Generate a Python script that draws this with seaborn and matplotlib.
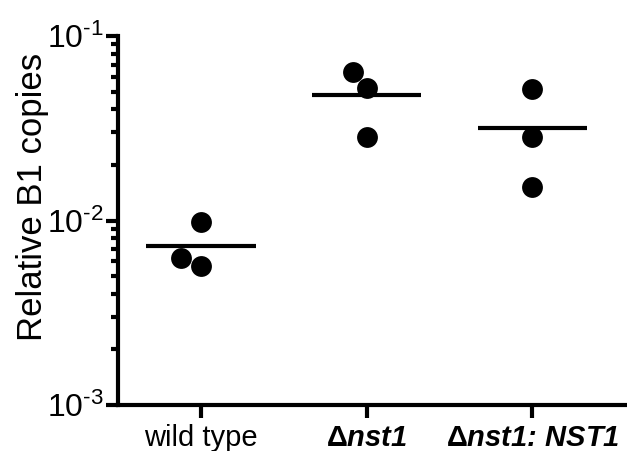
import matplotlib
matplotlib.use("Agg")
import matplotlib.pyplot as plt
import numpy as np
import pandas as pd
import seaborn as sns
from matplotlib.ticker import LogLocator, FuncFormatter, NullFormatter

# values (relative B1 copies)
groups = ["wild type", "Δnst1", "Δnst1: NST1"]
wild_type = [0.00985, 0.00567, 0.00626]
delta_nst1 = [0.0636, 0.0521, 0.0282]
delta_nst1_nst1 = [0.0514, 0.0285, 0.0151]
tick_labels = ["wild type", r"$\mathbf{\Delta}$nst1", r"$\mathbf{\Delta}$nst1: NST1"]

df = pd.DataFrame({
    "group": [groups[0]] * 3 + [groups[1]] * 3 + [groups[2]] * 3,
    "copies": wild_type + delta_nst1 + delta_nst1_nst1,
})

sns.set_style("ticks")
plt.rcParams["font.family"] = ["Liberation Sans", "DejaVu Sans"]
plt.rcParams["mathtext.fontset"] = "custom"
plt.rcParams["mathtext.rm"] = "Liberation Sans"
plt.rcParams["mathtext.it"] = "Liberation Sans:italic"
plt.rcParams["mathtext.bf"] = "Liberation Sans:bold"

fig = plt.figure(figsize=(6.27, 4.51), dpi=100)
ax = fig.add_axes([118 / 627, 46 / 451, 509 / 627, 369 / 451])

sns.swarmplot(data=df, x="group", y="copies", order=groups, color="black",
              size=15, linewidth=0, log_scale=True, ax=ax)

means = df.groupby("group", sort=False)["copies"].mean().reindex(groups)
xs = np.arange(len(groups))
ax.hlines(means.values, xs - 0.33, xs + 0.33, color="black", linewidth=3)

ax.set_ylim(1e-3, 1e-1)
ax.set_xlim(-0.5, 2.57)
ax.yaxis.set_major_locator(LogLocator(base=10))
ax.yaxis.set_major_formatter(
    FuncFormatter(lambda v, p: r"$10^{\text{-%d}}$" % round(-np.log10(v))))
ax.yaxis.set_minor_locator(LogLocator(base=10, subs=np.arange(2, 10)))
ax.yaxis.set_minor_formatter(NullFormatter())

ax.set_xticks(xs)
ax.set_xticklabels(tick_labels)
for i, lab in enumerate(ax.get_xticklabels()):
    if i > 0:
        lab.set_fontweight("bold")
        lab.set_fontstyle("italic")

ax.set_xlabel("")
ax.set_ylabel("Relative B1 copies", fontsize=25, color="black")
ax.yaxis.set_label_coords(-0.136, 0.565)

sns.despine(ax=ax)
for s in ["left", "bottom"]:
    ax.spines[s].set_linewidth(3)
    ax.spines[s].set_color("black")
ax.tick_params(axis="both", which="major", length=9, width=3, color="black",
               labelcolor="black")
ax.tick_params(axis="y", which="major", labelsize=23, pad=1)
ax.tick_params(axis="x", which="major", labelsize=21, pad=5)
ax.tick_params(axis="y", which="minor", length=5, width=3, color="black")

fig.savefig("out.png", dpi=100)
